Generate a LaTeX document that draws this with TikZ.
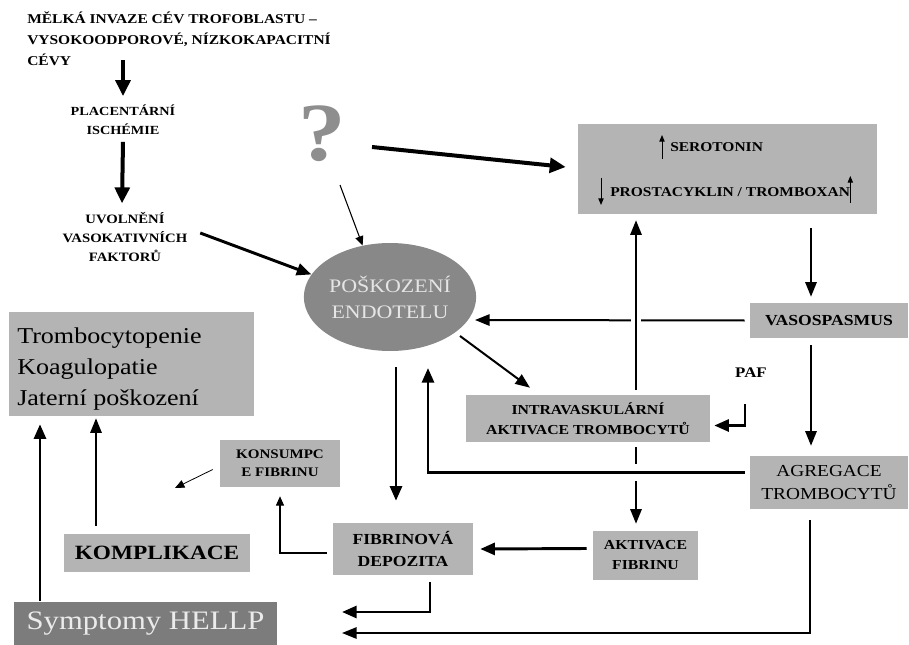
\documentclass[tikz,border=0pt]{standalone}
\usepackage{fontspec}
\setmainfont{Liberation Serif}[FakeStretch=1.15]
\usetikzlibrary{arrows.meta,shapes.geometric,calc}
\definecolor{boxgray}{HTML}{B4B4B4}
\definecolor{ellgray}{HTML}{888888}
\definecolor{sympgray}{HTML}{7C7C7C}
\definecolor{qgray}{HTML}{8E8E8E}
\newcommand{\fsz}[2]{\fontsize{#1}{#2}\selectfont}
\begin{document}
\begin{tikzpicture}[x=0.75pt,y=-0.75pt,
  lbox/.style={fill=boxgray, draw=none, inner sep=0pt, align=center, font=\bfseries\fsz{10}{14}},
  tx/.style={inner sep=2pt, align=center, font=\bfseries\fsz{9.6}{14.3}},
  big/.style={line width=3pt, -{Triangle[length=12pt,width=11pt]}},
  med/.style={line width=2.2pt, -{Triangle[length=11pt,width=9pt]}},
  norm/.style={line width=1.5pt, -{Triangle[length=11pt,width=8.5pt]}},
  slim/.style={line width=0.8pt, -{Triangle[length=7pt,width=6pt]}},
  tiny/.style={line width=0.7pt, -{Triangle[length=5pt,width=4pt]}},
  gapv/.style={preaction={draw=white, line width=7pt, -}},
  gaph/.style={preaction={draw=white, line width=13pt, -}}
]
\useasboundingbox (0,0) rectangle (909,645);
\fill[white] (0,0) rectangle (909,645);

% ---- top-left chain
\node[tx, anchor=west, align=left, inner sep=0pt, font=\bfseries\fsz{10.1}{15.6}] (mi) at (27,39)
  {MĚLKÁ INVAZE CÉV TROFOBLASTU –\\VYSOKOODPOROVÉ, NÍZKOKAPACITNÍ\\CÉVY};
\coordinate (a1s) at (123,60);
\node[tx, font=\bfseries\fsz{9.3}{14.3}] (plac) at (123,120) {PLACENTÁRNÍ\\ISCHÉMIE};
\node[tx] (uvol) at (125,237) {UVOLNĚNÍ\\VASOKATIVNÍCH\\FAKTORŮ};

% ---- nodes
\node[ellipse, fill=ellgray, inner sep=0pt, minimum width=123pt, minimum height=81pt,
      align=center, text=white!90!black, font=\fsz{14.3}{19.5}] (ell) at (390,297) {POŠKOZENÍ\\ENDOTELU};
\node[inner sep=0pt, text=qgray, font=\bfseries\fsz{62}{62}] (q) at (322,134) {?};
\coordinate (qs) at (340,185);
\coordinate (qe) at (372,147);

\node[lbox, minimum width=224.25pt, minimum height=67.5pt] (tbox) at (727.5,169) {};
\node[tx, anchor=west, inner sep=0pt, font=\bfseries\fsz{10.1}{14}] (sero) at (670,147) {SEROTONIN};
\node[tx, anchor=west, inner sep=0pt, font=\bfseries\fsz{10.1}{14}] (prost) at (610,192) {PROSTACYKLIN / TROMBOXAN};

\node[lbox, minimum width=118.5pt, minimum height=26.25pt, font=\bfseries\fsz{11.5}{14}] (vaso) at (829,320.5) {VASOSPASMUS};
\node[lbox, minimum width=118.5pt, minimum height=39.75pt, font=\fsz{12.6}{17}] (agreg) at (829,482.5) {AGREGACE\\TROMBOCYTŮ};
\node[lbox, minimum width=183pt, minimum height=35.25pt, font=\bfseries\fsz{10.3}{15}] (intra) at (588,418.5) {INTRAVASKULÁRNÍ\\AKTIVACE TROMBOCYTŮ};
\node[tx, inner sep=0pt, font=\bfseries\fsz{11}{12}] (paf) at (751,373) {PAF};
\coordinate (pafs) at (745,404);
\node[lbox, minimum width=105pt, minimum height=39pt, font=\bfseries\fsz{11.5}{16}] (fib) at (403,549) {FIBRINOVÁ\\DEPOZITA};
\node[lbox, minimum width=78.75pt, minimum height=36.75pt, font=\bfseries\fsz{10.3}{15}] (aktf) at (645.5,555.5) {AKTIVACE\\FIBRINU};
\node[lbox, minimum width=90pt, minimum height=35.25pt, font=\bfseries\fsz{9.8}{13.5}] (kons) at (280,463.5) {KONSUMPC\\E FIBRINU};
\coordinate (konsend) at (175,488);
\node[lbox, minimum width=139.5pt, minimum height=28.5pt, font=\bfseries\fsz{15.2}{16}] (kompl) at (157,553) {KOMPLIKACE};
\node[lbox, minimum width=183.75pt, minimum height=78pt] (tromb) at (131.5,364) {};
\node[anchor=west, inner sep=0pt, align=left, font=\fsz{17}{23.5}] (trombt) at (17,369)
  {Trombocytopenie\\Koagulopatie\\Jaterní poškození};
\node[fill=sympgray, inner sep=0pt, minimum width=197.25pt, minimum height=33pt,
      text=white!92!black, font=\fsz{20}{20}] (sympt) at (145.5,623.5) {Symptomy HELLP};
\coordinate (h1) at (342,612);
\coordinate (h2) at (342,633);

% ---- connectors
\draw[big] (a1s) -- ($(plac.north)+(0,-6)$);
\draw[big] ($(plac.south)+(0,4)$) -- ($(uvol.north)+(-3,-6)$);
\draw[med] ($(uvol.east)+(10,-4)$) -- (ell.164);
\draw[slim] (qs) -- (ell.118);
\draw[big] (qe) -- ($(tbox.west)+(-12,-2)$);
\draw[tiny] ($(sero.west)+(-8,12)$) -- ($(sero.west)+(-8,-12)$);
\draw[tiny] ($(prost.west)+(-9,-14)$) -- ($(prost.west)+(-9,13)$);
\draw[tiny] ($(prost.east)+(0,11)$) -- ($(prost.east)+(0,-16)$);
\draw[norm] ($(tbox.south)+(83.5,14)$) -- ($(vaso.north)+(-18,-6)$);
\draw[norm] ($(vaso.west)+(-5,0)$) -- ($(ell.center)+(85,23)$);
\draw[norm] ($(ell.center)+(70,39)$) -- ($(intra.north)+(-58,-7)$);
\draw[norm, gapv] ($(intra.north)+(48,-5)$) -- ($(tbox.south)+(-91.5,6)$);
\draw[med] (pafs) |- ($(intra.east)+(4,7)$);
\draw[norm] ($(vaso.south)+(-18,7)$) -- ($(agreg.north)+(-18,-10)$);
\draw[norm] ($(intra.south)+(48,5)$) -- ($(aktf.north)+(-9.5,-7)$);
\draw[med, gaph] ($(agreg.west)+(-5,-10)$) -| ($(ell.center)+(38,71)$);
\draw[med] ($(ell.center)+(6,70)$) -- ($(fib.north)+(-7,-22)$);
\draw[med] ($(aktf.west)+(-6,-7)$) -- ($(fib.east)+(7,0)$);
\draw[slim] ($(fib.west)+(-6,4)$) -| ($(kons.south)+(0,9)$);
\draw[slim, line width=0.6pt] ($(kons.west)+(-7,6)$) -- (konsend);
\draw[norm] ($(kompl.north)+(-61,-8)$) -- ($(tromb.south)+(-35.5,2)$);
\draw[med] ($(sympt.north)+(-105.5,0)$) -- ($(tromb.south)+(-91.5,8)$);
\draw[med] ($(fib.south)+(27,7)$) |- (h1);
\draw[norm] ($(agreg.south)+(-19,11)$) |- (h2);
\end{tikzpicture}
\end{document}
